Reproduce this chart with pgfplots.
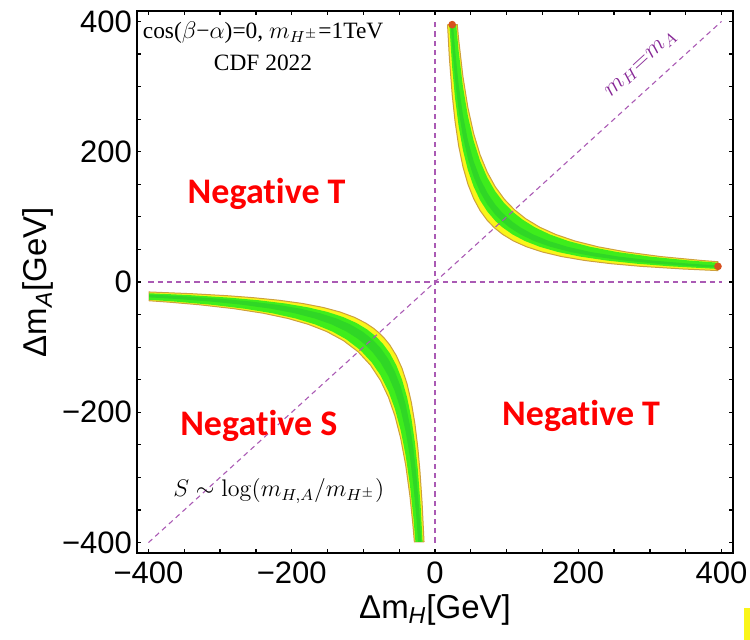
\documentclass[border=0pt]{standalone}
\usepackage[no-math]{fontspec}
\setmainfont{Liberation Sans}
\newfontfamily\seriffont{Liberation Serif}
\newfontfamily\calfont{Carlito}[Ligatures=NoCommon]
\usepackage{pgfplots}
\pgfplotsset{compat=1.18}

\definecolor{bandyellow}{RGB}{250,245,25}
\definecolor{bandgreen}{RGB}{62,237,28}
\definecolor{bandcore}{RGB}{48,215,38}
\definecolor{bandedge}{RGB}{205,160,60}
\definecolor{guide}{RGB}{170,90,180}
\definecolor{guidetext}{RGB}{135,40,150}
\definecolor{enddot}{RGB}{215,80,30}

\begin{document}
\begin{tikzpicture}
\begin{axis}[
  scale only axis, width=298pt, height=271pt,
  xmin=-416, xmax=416, ymin=-416, ymax=416,
  xtick={-400,-200,0,200,400}, ytick={-400,-200,0,200,400},
  xticklabels={−400,−200,0,200,400},
  yticklabels={−400,−200,0,200,400},
  minor tick num=3,
  tick align=inside,
  major tick length=2pt, minor tick length=2pt,
  every tick/.style={black, line width=0.6pt},
  axis line style={line width=1pt},
  tick label style={font=\fontsize{15.5}{18}\selectfont},
  xticklabel style={yshift=-1pt},
  yticklabel style={xshift=1pt},
  label style={font=\fontsize{16.5}{20}\selectfont},
  xlabel={Δm\textsubscript{\itshape H}[GeV]},
  ylabel={Δm\textsubscript{\itshape A}[GeV]},
  xlabel style={at={(axis description cs:0.5,-0.105)}, anchor=center},
  ylabel style={at={(axis description cs:-0.166,0.5)}, anchor=center},
]
% allowed band, Delta m_H > 0, Delta m_A > 0 (outer 2 sigma, inner 1 sigma, core)
\addplot[draw=bandedge, line width=0.5pt, fill=bandyellow] coordinates {
 (17.5,395) (20,345) (24,287.5) (28,246.4) (33,209.1) (39,176.9) (46,150) (54,127.8) (63,109.5) (73,94.5)
 (83.07,83.07) (94.5,73) (109.5,63) (127.8,54) (150,46) (176.9,39) (209.1,33) (246.4,28) (287.5,24) (345,20) (395,17.5)
 (395,31.1) (372.7,33) (315.4,39) (267.4,46) (227.8,54) (195.2,63) (168.5,73) (146.4,84) (126.8,97)
 (110.9,110.9) (97,126.8) (84,146.4) (73,168.5) (63,195.2) (54,227.8) (46,267.4) (39,315.4) (33,372.7) (31.1,395) (17.5,395)};
\addplot[draw=none, fill=bandgreen] coordinates {
 (20,395) (24,329.2) (28,282.1) (33,239.4) (39,202.6) (46,171.7) (54,146.3) (63,125.4) (73,108.2) (84,94.05)
 (88.88,88.88) (94.05,84) (108.2,73) (125.4,63) (146.3,54) (171.7,46) (202.6,39) (239.4,33) (282.1,28) (329.2,24) (395,20)
 (395,29.6) (354.5,33) (300,39) (254.3,46) (216.7,54) (185.7,63) (160.3,73) (139.3,84) (121.9,96)
 (108.17,108.17) (96,121.9) (84,139.3) (73,160.3) (63,185.7) (54,216.7) (46,254.3) (39,300) (33,354.5) (29.6,395) (20,395)};
\addplot[draw=none, fill=bandcore] coordinates {
 (22,395) (24,362.5) (28,310.7) (33,263.6) (39,223.1) (46,189.1) (54,161.1) (63,138.1) (73,119.2) (84,103.6)
 (93.27,93.27) (103.6,84) (119.2,73) (138.1,63) (161.1,54) (189.1,46) (223.1,39) (263.6,33) (310.7,28) (362.5,24) (395,22)
 (395,25.3) (357.1,28) (303,33) (256.4,39) (217.4,46) (185.2,54) (158.7,63) (137,73) (119,84) (108.7,92)
 (100,100) (92,108.7) (84,119) (73,137) (63,158.7) (54,185.2) (46,217.4) (39,256.4) (33,303) (28,357.1) (25.3,395) (22,395)};

% allowed band, Delta m_H < 0, Delta m_A < 0
\addplot[draw=bandedge, line width=0.5pt, fill=bandyellow] coordinates {
 (-15.3,-399) (-18,-338.9) (-21,-290.5) (-24,-254.2) (-28,-217.9) (-33,-184.8) (-39,-156.4) (-46,-132.6) (-54,-113) (-63,-96.8) (-71,-85.9)
 (-78.1,-78.1) (-85.9,-71) (-96.8,-63) (-113,-54) (-132.6,-46) (-156.4,-39) (-184.8,-33) (-217.9,-28) (-254.2,-24) (-290.5,-21) (-338.9,-18) (-399,-15.3)
 (-399,-28.8) (-371,-31) (-328.6,-35) (-280.5,-41) (-239.6,-48) (-205.4,-56) (-176.9,-65) (-151.3,-76) (-127.8,-90)
 (-107.24,-107.24) (-90,-127.8) (-76,-151.3) (-65,-176.9) (-56,-205.4) (-48,-239.6) (-41,-280.5) (-35,-328.6) (-31,-371) (-28.8,-399) (-15.3,-399)};
\addplot[draw=none, fill=bandgreen] coordinates {
 (-17.3,-399) (-20,-345) (-24,-287.5) (-28,-246.4) (-33,-209.1) (-39,-176.9) (-46,-150) (-54,-127.8) (-63,-109.5) (-73,-94.5)
 (-83.07,-83.07) (-94.5,-73) (-109.5,-63) (-127.8,-54) (-150,-46) (-176.9,-39) (-209.1,-33) (-246.4,-28) (-287.5,-24) (-345,-20) (-399,-17.3)
 (-399,-27.3) (-363.3,-30) (-311.4,-35) (-265.9,-41) (-227.1,-48) (-194.6,-56) (-167.7,-65) (-143.4,-76) (-123.9,-88)
 (-104.4,-104.4) (-88,-123.9) (-76,-143.4) (-65,-167.7) (-56,-194.6) (-48,-227.1) (-41,-265.9) (-35,-311.4) (-30,-363.3) (-27.3,-399) (-17.3,-399)};
\addplot[draw=none, fill=bandcore] coordinates {
 (-19.3,-399) (-22,-350) (-26,-296.2) (-30,-256.7) (-35,-220) (-41,-187.8) (-48,-160.4) (-56,-137.5) (-65,-118.5) (-76,-101.3)
 (-87.75,-87.75) (-101.3,-76) (-118.5,-65) (-137.5,-56) (-160.4,-48) (-187.8,-41) (-220,-35) (-256.7,-30) (-296.2,-26) (-350,-22) (-399,-19.3)
 (-399,-23.6) (-361.5,-26) (-313.3,-30) (-268.6,-35) (-229.3,-41) (-195.8,-48) (-167.9,-56) (-144.6,-65) (-123.7,-76) (-108,-87)
 (-96.95,-96.95) (-87,-108) (-76,-123.7) (-65,-144.6) (-56,-167.9) (-48,-195.8) (-41,-229.3) (-35,-268.6) (-30,-313.3) (-26,-361.5) (-23.6,-399) (-19.3,-399)};

% guide lines
\addplot[guide, line width=0.55pt, dash pattern=on 2.6pt off 2pt] coordinates {(-400,0) (400,0)};
\addplot[guide, line width=0.55pt, dash pattern=on 2.6pt off 2pt] coordinates {(0,-400) (0,400)};
\addplot[guide, line width=0.55pt, dash pattern=on 2.6pt off 2pt] coordinates {(-400,-400) (400,400)};

% band end points
\addplot[only marks, mark=*, mark size=1.7pt, enddot, mark options={draw=enddot, fill=enddot}] coordinates {(24,395) (395,24)};

\node[font=\seriffont\fontsize{11.7}{14}\selectfont, anchor=base] at (axis cs:-240,374) {cos($\beta$−$\alpha$)=0, $m_{H^{\pm}}$=1TeV};
\node[font=\seriffont\fontsize{11.7}{14}\selectfont, anchor=base] at (axis cs:-240,325) {CDF 2022};
\node[rotate=42.4, text=guidetext, font=\fontsize{12}{14}\selectfont, inner sep=0pt] at (axis cs:288,334) {$m_H{=}m_A$};

\node[font=\calfont\bfseries\fontsize{18}{22}\selectfont, text=red, anchor=base] at (axis cs:-235,121) {Negative T};
\node[font=\calfont\bfseries\fontsize{18}{22}\selectfont, text=red, anchor=base] at (axis cs:204,-221) {Negative T};
\node[font=\calfont\bfseries\fontsize{18}{22}\selectfont, text=red, anchor=base] at (axis cs:-246,-235) {Negative S};
\node[font=\fontsize{11.5}{14}\selectfont, anchor=base] at (axis cs:-218,-329.5) {$S\sim\log(m_{H,A}/m_{H^{\pm}})$};
\end{axis}
\pgfresetboundingbox
\path ([shift={(-68.5pt,-43.5pt)}]current axis.south west) rectangle ([shift={(8.5pt,5.5pt)}]current axis.north east);
\fill[bandyellow] ([shift={(5.5pt,-27.5pt)}]current axis.south east) rectangle ([shift={(8.5pt,-43.5pt)}]current axis.south east);
\end{tikzpicture}
\end{document}
